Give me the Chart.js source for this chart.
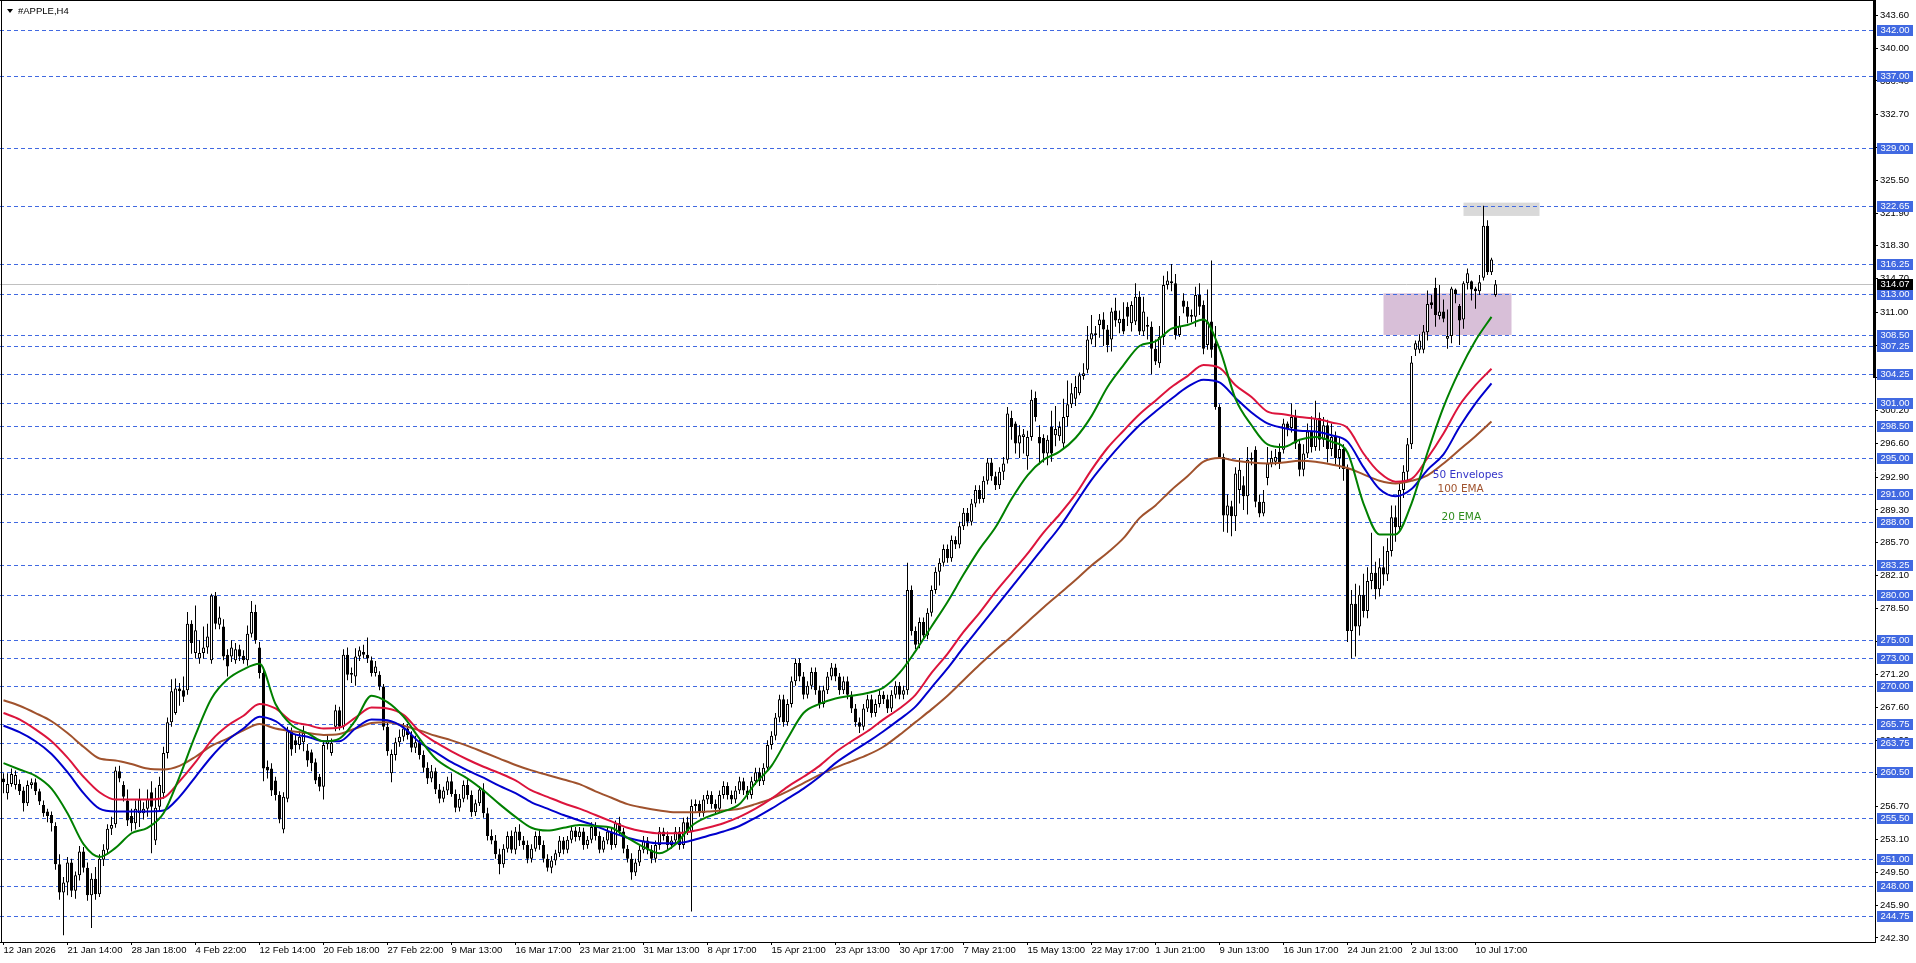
<!DOCTYPE html>
<html>
<head>
<meta charset="utf-8">
<title>#APPLE,H4</title>
<script src="https://cdn.jsdelivr.net/npm/chart.js@4.4.1/dist/chart.umd.min.js"></script>
<style>
  html, body { margin: 0; padding: 0; background: #fff; overflow: hidden; }
  #wrap { width: 1916px; height: 963px; }
</style>
</head>
<body>
<div id="wrap"><canvas id="chart" width="1916" height="963"></canvas></div>
<script>
const symbolTitle = "#APPLE,H4";

// one label every 16 bars (H4)
const timeLabels = [
  "12 Jan 2026", "21 Jan 14:00", "28 Jan 18:00", "4 Feb 22:00", "12 Feb 14:00", "20 Feb 18:00",
  "27 Feb 22:00", "9 Mar 13:00", "16 Mar 17:00", "23 Mar 21:00", "31 Mar 13:00", "8 Apr 17:00",
  "15 Apr 21:00", "23 Apr 13:00", "30 Apr 17:00", "7 May 21:00", "15 May 13:00", "22 May 17:00",
  "1 Jun 21:00", "9 Jun 13:00", "16 Jun 17:00", "24 Jun 21:00", "2 Jul 13:00", "10 Jul 17:00"
];

const priceTicks = [343.60, 340.00, 336.40, 332.70, 329.10, 325.50, 321.90, 318.30, 314.70, 311.00,
  307.40, 303.80, 300.20, 296.60, 292.90, 289.30, 285.70, 282.10, 278.50, 274.80, 271.20, 267.60,
  264.00, 260.30, 256.70, 253.10, 249.50, 245.90, 242.30];

const opens = [
  259.8, 258.2, 259.2, 259.1, 259.2, 258.5, 257.1, 259.1, 259.4, 258.4,
  256.9, 256.2, 255.8, 254.6, 250.4, 247.3, 248.4, 250.6, 247.5, 249.2,
  251.8, 250.0, 247.0, 248.8, 247.1, 250.9, 252.0, 254.3, 254.8, 260.6,
  259.1, 257.4, 255.7, 254.9, 256.0, 256.0, 256.5, 258.3, 253.0, 256.7,
  258.2, 262.6, 266.0, 267.0, 269.7, 269.5, 269.5, 276.8, 273.6, 273.0,
  273.6, 274.2, 272.8, 279.9, 276.7, 276.5, 273.4, 273.2, 272.8, 274.0,
  273.3, 272.8, 275.7, 278.1, 274.2, 271.4, 261.1, 260.9, 259.6, 258.0,
  254.2, 257.6, 265.0, 264.0, 263.5, 263.8, 262.9, 262.7, 261.6, 260.0,
  258.9, 263.6, 262.6, 265.5, 267.3, 265.5, 273.4, 271.4, 271.0, 273.2,
  273.7, 273.4, 272.8, 271.4, 271.2, 269.9, 265.5, 260.4, 262.4, 263.8,
  264.4, 265.3, 264.6, 263.2, 263.8, 262.4, 261.0, 259.8, 260.6, 258.6,
  257.6, 258.5, 259.5, 258.1, 256.6, 257.6, 259.1, 258.0, 256.1, 257.1,
  258.6, 256.0, 253.5, 253.0, 251.5, 250.4, 252.1, 253.5, 252.0, 254.0,
  253.0, 252.5, 251.0, 252.1, 253.5, 252.5, 251.0, 250.0, 250.8, 251.6,
  253.0, 252.0, 253.1, 254.1, 253.4, 254.0, 252.5, 253.1, 254.5, 253.5,
  252.0, 253.0, 254.0, 252.5, 254.9, 254.0, 252.1, 251.0, 249.5, 250.6,
  252.0, 253.0, 252.0, 251.0, 252.5, 254.0, 253.5, 252.5, 253.0, 254.0,
  252.5, 255.0, 254.0, 256.8, 257.0, 256.0, 257.5, 258.0, 257.0, 256.5,
  258.0, 259.0, 258.0, 257.5, 258.5, 259.5, 258.5, 258.0, 259.5, 260.5,
  259.5, 261.0, 263.5, 264.5, 266.5, 268.5, 266.0, 268.0, 270.5, 272.5,
  271.0, 269.0, 270.0, 271.5, 269.5, 268.0, 269.5, 271.0, 272.0, 271.0,
  269.5, 270.5, 269.0, 267.5, 266.0, 265.5, 267.5, 268.5, 267.0, 268.0,
  269.0, 268.5, 267.5, 269.0, 270.0, 269.0, 269.5, 280.5, 276.0, 274.5,
  277.0, 275.5, 278.0, 280.5, 282.5, 283.5, 285.0, 284.0, 286.0, 285.5,
  287.5, 289.0, 288.0, 290.0, 291.5, 290.5, 292.5, 294.5, 293.0, 292.0,
  293.5, 294.8, 299.4, 298.8, 296.6, 297.3, 295.2, 297.3, 301.6, 297.3,
  297.2, 295.5, 298.4, 297.5, 297.4, 296.6, 299.5, 300.9, 301.5, 302.1,
  304.0, 304.7, 308.0, 308.7, 309.6, 310.2, 309.1, 308.0, 311.2, 309.8,
  310.3, 311.6, 309.8, 310.0, 312.7, 308.9, 309.4, 309.4, 307.0, 305.4,
  308.3, 314.0, 314.2, 314.2, 308.5, 312.3, 311.6, 310.5, 310.5, 312.9,
  311.8, 307.4, 310.0, 307.6, 300.6, 295.1, 288.7, 289.7, 288.6, 291.5,
  292.0, 290.8, 294.8, 295.9, 290.2, 288.9, 292.8, 294.4, 294.6, 295.7,
  295.9, 298.8, 298.3, 299.5, 296.6, 293.7, 295.5, 297.9, 296.2, 299.4,
  297.0, 298.6, 296.0, 297.3, 295.0, 296.0, 293.8, 276.0, 279.0, 276.5,
  280.0, 278.2, 281.5, 282.4, 280.6, 283.0, 282.2, 284.8, 288.5, 287.4,
  291.5, 293.5, 296.5, 306.9, 306.9, 306.9, 308.8, 312.1, 313.7, 310.6,
  311.1, 308.1, 308.4, 313.5, 311.7, 310.2, 314.2, 314.4, 313.6, 313.3,
  314.8, 320.5, 315.4, 312.9
];

const highs = [
  260.4, 260.4, 260.9, 260.7, 259.7, 258.9, 259.6, 259.8, 259.8, 258.7,
  257.4, 256.5, 256.2, 255.0, 251.5, 249.0, 251.2, 251.0, 249.6, 252.4,
  252.3, 250.6, 249.4, 250.1, 251.5, 252.6, 254.8, 255.6, 261.1, 261.2,
  259.5, 258.6, 256.5, 257.4, 258.7, 257.2, 258.6, 259.5, 258.8, 260.0,
  263.3, 266.5, 270.7, 270.8, 270.3, 271.0, 278.1, 277.2, 278.8, 275.0,
  276.5, 276.8, 280.1, 280.3, 278.7, 277.3, 274.0, 275.0, 274.7, 274.5,
  273.9, 276.6, 279.3, 278.9, 274.8, 272.0, 261.8, 261.5, 260.0, 258.4,
  258.3, 265.5, 265.4, 264.6, 265.0, 265.6, 263.6, 263.0, 262.0, 260.3,
  264.0, 264.7, 264.2, 267.9, 267.7, 274.0, 274.2, 272.0, 274.1, 274.3,
  274.5, 275.3, 273.2, 272.7, 271.6, 270.2, 266.0, 263.0, 264.3, 265.2,
  265.9, 265.8, 265.0, 264.5, 264.2, 262.9, 261.6, 261.3, 261.0, 259.2,
  258.9, 260.0, 260.4, 258.6, 258.1, 259.6, 259.7, 258.5, 257.5, 259.0,
  259.3, 256.6, 254.2, 253.6, 252.1, 252.6, 254.0, 254.1, 254.5, 254.8,
  253.5, 253.0, 252.6, 254.0, 254.1, 253.0, 251.5, 251.3, 252.0, 253.5,
  253.4, 253.5, 254.6, 254.5, 254.5, 254.4, 253.5, 255.0, 255.0, 254.0,
  253.4, 254.5, 254.4, 255.2, 255.6, 254.4, 252.5, 251.6, 251.0, 252.4,
  253.5, 253.4, 252.5, 253.0, 254.5, 254.4, 254.0, 253.5, 254.5, 254.5,
  255.5, 255.6, 257.5, 257.5, 257.4, 258.0, 258.5, 258.4, 257.5, 258.5,
  259.5, 259.4, 258.5, 259.0, 260.0, 259.9, 259.0, 260.0, 261.0, 261.0,
  261.5, 264.0, 265.0, 267.0, 269.0, 269.0, 268.5, 271.0, 273.0, 273.0,
  271.5, 270.5, 272.0, 272.0, 270.0, 270.0, 271.5, 272.5, 272.4, 271.4,
  271.0, 271.0, 269.4, 268.0, 266.5, 268.0, 269.0, 269.0, 268.5, 269.5,
  269.4, 269.0, 269.5, 270.5, 270.4, 270.0, 283.5, 281.0, 276.5, 277.5,
  277.5, 278.5, 281.0, 283.0, 284.0, 285.5, 285.5, 286.5, 286.4, 288.0,
  289.5, 289.5, 290.5, 292.0, 292.0, 293.0, 295.0, 295.0, 293.5, 294.0,
  295.1, 300.6, 300.2, 299.0, 298.6, 298.2, 298.0, 302.5, 302.3, 298.6,
  297.6, 297.5, 300.2, 300.7, 299.0, 301.5, 303.5, 303.2, 304.0, 304.4,
  305.4, 309.5, 310.7, 309.5, 310.8, 311.0, 309.6, 311.5, 312.6, 311.2,
  312.1, 312.1, 312.2, 314.2, 313.3, 312.7, 310.5, 310.0, 308.0, 309.5,
  315.0, 315.5, 316.3, 315.2, 310.6, 313.1, 312.2, 311.3, 313.8, 314.2,
  312.3, 313.5, 316.7, 309.5, 300.9, 295.5, 291.0, 290.3, 294.0, 295.0,
  293.0, 296.2, 295.6, 296.3, 291.0, 291.5, 296.2, 295.8, 296.0, 296.6,
  299.3, 299.0, 301.0, 300.3, 297.0, 296.5, 298.8, 299.6, 301.3, 300.0,
  299.5, 299.2, 298.8, 297.9, 297.2, 296.5, 294.3, 280.5, 281.2, 281.0,
  282.3, 283.0, 286.8, 283.6, 284.0, 285.3, 286.2, 289.8, 289.8, 292.2,
  294.2, 297.2, 306.2, 307.9, 308.6, 309.6, 313.4, 312.9, 314.8, 314.0,
  312.4, 311.3, 313.8, 313.6, 311.9, 314.4, 315.8, 314.5, 313.8, 315.1,
  322.7, 321.1, 317.0, 314.55
];

const lows = [
  258.2, 257.5, 258.9, 258.6, 258.0, 256.2, 256.8, 258.7, 258.0, 256.9,
  255.6, 255.0, 254.0, 249.8, 246.5, 242.6, 247.0, 246.8, 246.6, 248.6,
  249.5, 246.4, 243.4, 246.5, 246.8, 250.2, 251.6, 253.6, 254.4, 259.4,
  257.3, 254.6, 254.0, 254.2, 254.5, 255.3, 255.6, 251.6, 252.5, 256.2,
  257.6, 262.0, 265.5, 266.8, 267.8, 268.2, 269.0, 273.5, 273.0, 272.4,
  273.0, 273.5, 272.4, 276.2, 276.2, 272.8, 271.0, 272.6, 272.4, 272.7,
  272.4, 272.2, 275.3, 274.6, 270.8, 259.5, 259.8, 257.9, 257.4, 254.9,
  253.8, 257.2, 262.3, 262.6, 263.0, 262.8, 261.1, 260.6, 259.2, 258.4,
  257.5, 263.0, 262.3, 265.0, 265.1, 265.2, 270.6, 270.3, 270.0, 272.7,
  273.0, 272.5, 271.0, 271.0, 269.5, 265.1, 262.3, 259.4, 261.8, 263.3,
  263.9, 264.1, 262.7, 262.6, 261.9, 260.5, 259.2, 259.4, 258.1, 257.1,
  257.2, 258.0, 257.8, 256.1, 256.2, 257.2, 257.5, 255.6, 255.7, 256.8,
  255.5, 253.0, 252.6, 251.0, 249.3, 250.0, 251.7, 251.6, 251.5, 252.4,
  252.0, 250.5, 250.6, 251.8, 252.0, 250.6, 249.6, 249.4, 250.3, 251.2,
  251.5, 251.6, 252.7, 252.9, 253.0, 252.0, 252.1, 252.7, 253.0, 251.6,
  251.7, 252.6, 252.0, 252.2, 253.6, 251.6, 250.6, 248.7, 249.1, 250.2,
  251.6, 251.5, 250.5, 250.6, 252.0, 253.0, 252.0, 252.1, 252.6, 252.0,
  252.1, 253.6, 245.2, 256.2, 255.6, 255.6, 257.0, 256.5, 256.0, 256.1,
  257.6, 257.5, 257.0, 257.1, 258.1, 258.0, 257.5, 257.6, 259.1, 259.0,
  259.1, 260.6, 263.0, 264.0, 266.0, 265.5, 265.6, 267.6, 270.0, 270.5,
  268.5, 268.6, 269.6, 269.0, 267.5, 267.6, 269.1, 270.6, 270.5, 269.0,
  269.1, 268.5, 267.0, 265.5, 264.8, 265.1, 267.1, 266.5, 266.6, 267.6,
  268.0, 267.0, 267.1, 268.6, 268.5, 268.5, 269.0, 275.5, 274.0, 274.1,
  275.0, 275.1, 277.6, 280.1, 281.0, 283.1, 283.5, 283.6, 285.0, 285.1,
  287.1, 287.5, 287.6, 289.6, 290.0, 290.1, 292.1, 292.5, 291.5, 291.6,
  292.6, 294.4, 297.0, 295.5, 295.0, 295.5, 293.7, 296.9, 299.0, 294.3,
  294.5, 294.2, 294.6, 296.3, 296.9, 296.1, 298.5, 300.5, 300.7, 301.9,
  303.6, 304.3, 307.5, 307.2, 308.2, 307.3, 306.6, 306.7, 309.4, 308.7,
  308.6, 309.5, 308.9, 309.6, 308.5, 308.4, 308.0, 304.2, 305.2, 304.9,
  307.4, 313.5, 313.3, 308.0, 308.3, 310.9, 309.8, 309.9, 309.4, 310.7,
  306.4, 306.9, 306.0, 300.3, 294.9, 286.9, 286.8, 286.4, 287.0, 290.0,
  289.3, 288.8, 294.2, 289.6, 288.5, 288.6, 292.0, 294.0, 294.2, 293.8,
  295.5, 297.4, 297.8, 296.0, 293.0, 293.0, 295.0, 295.6, 295.8, 295.8,
  296.2, 294.5, 295.2, 294.3, 293.8, 292.5, 274.8, 273.0, 273.2, 275.5,
  277.5, 277.4, 280.6, 279.5, 279.8, 281.0, 281.5, 284.2, 285.8, 287.0,
  290.6, 292.5, 296.0, 306.2, 306.5, 306.5, 307.9, 311.4, 309.4, 310.2,
  309.9, 307.0, 307.6, 312.0, 307.4, 309.2, 313.5, 312.3, 311.4, 312.9,
  314.5, 315.1, 315.1, 312.7
];

const closes = [
  259.4, 259.2, 260.3, 260.2, 258.4, 257.1, 259.1, 259.4, 258.4, 257.3,
  256.0, 255.7, 254.9, 250.4, 247.3, 248.4, 250.6, 247.5, 249.2, 251.8,
  250.0, 247.0, 248.8, 247.1, 251.0, 252.0, 254.3, 254.7, 260.7, 259.8,
  257.8, 255.2, 254.9, 256.5, 257.5, 256.5, 257.6, 256.7, 256.6, 259.1,
  262.6, 266.0, 269.4, 269.7, 269.4, 268.8, 276.8, 274.7, 276.1, 273.6,
  274.2, 275.4, 279.9, 276.8, 277.5, 273.2, 272.1, 274.2, 274.0, 273.2,
  272.8, 275.7, 278.1, 275.0, 271.4, 260.9, 260.7, 258.5, 258.0, 255.3,
  257.8, 265.0, 263.0, 263.5, 264.4, 264.8, 261.8, 261.5, 259.6, 258.9,
  263.5, 264.0, 263.7, 267.3, 265.5, 273.4, 271.2, 271.2, 273.2, 273.9,
  273.4, 273.0, 271.4, 272.1, 269.9, 265.5, 262.8, 262.5, 263.8, 264.4,
  265.3, 264.6, 263.2, 263.8, 262.4, 261.0, 259.8, 260.6, 258.6, 257.6,
  258.5, 259.5, 258.1, 256.6, 257.6, 259.1, 258.0, 256.1, 257.1, 258.6,
  256.0, 253.5, 253.0, 251.5, 250.4, 252.1, 253.5, 252.0, 254.0, 253.0,
  252.5, 251.0, 252.1, 253.5, 252.5, 251.0, 250.0, 250.8, 251.6, 253.0,
  252.0, 253.1, 254.1, 253.4, 254.0, 252.5, 253.1, 254.5, 253.5, 252.0,
  253.0, 254.0, 252.5, 254.9, 254.0, 252.1, 251.0, 249.5, 250.6, 252.0,
  253.0, 252.0, 251.0, 252.5, 254.0, 253.5, 252.5, 253.0, 254.0, 252.5,
  255.0, 254.0, 256.8, 257.0, 256.0, 257.5, 258.0, 257.0, 256.5, 258.0,
  259.0, 258.0, 257.5, 258.5, 259.5, 258.5, 258.0, 259.5, 260.5, 259.5,
  261.0, 263.5, 264.5, 266.5, 268.5, 266.0, 268.0, 270.5, 272.5, 271.0,
  269.0, 270.0, 271.5, 269.5, 268.0, 269.5, 271.0, 272.0, 271.0, 269.5,
  270.5, 269.0, 267.5, 266.0, 265.5, 267.5, 268.5, 267.0, 268.0, 269.0,
  268.5, 267.5, 269.0, 270.0, 269.0, 269.5, 280.5, 276.0, 274.5, 277.0,
  275.5, 278.0, 280.5, 282.5, 283.5, 285.0, 284.0, 286.0, 285.5, 287.5,
  289.0, 288.0, 290.0, 291.5, 290.5, 292.5, 294.5, 293.0, 292.0, 293.5,
  294.4, 299.9, 298.4, 296.6, 297.5, 297.6, 297.3, 301.4, 299.5, 296.6,
  295.5, 297.0, 295.5, 298.2, 298.4, 299.5, 300.9, 302.1, 302.8, 304.1,
  304.3, 308.0, 308.7, 308.5, 310.2, 309.1, 307.4, 311.1, 310.1, 310.3,
  308.9, 310.5, 311.8, 312.7, 308.9, 311.1, 309.6, 307.0, 305.6, 308.3,
  314.0, 314.5, 314.4, 308.5, 309.5, 311.6, 310.5, 310.7, 312.9, 311.6,
  307.0, 310.0, 306.9, 300.6, 295.1, 288.7, 289.8, 288.6, 293.3, 293.7,
  290.8, 294.8, 295.0, 290.2, 288.9, 290.2, 294.4, 295.0, 295.1, 294.4,
  298.8, 298.3, 299.5, 296.6, 293.7, 295.5, 297.9, 296.2, 299.4, 297.0,
  298.6, 296.0, 297.3, 295.0, 296.0, 293.8, 276.0, 279.0, 276.5, 280.0,
  278.2, 281.5, 282.4, 280.6, 283.0, 282.2, 284.8, 288.5, 287.4, 291.5,
  293.5, 296.5, 305.5, 307.6, 307.9, 308.9, 311.9, 311.8, 310.7, 311.1,
  310.3, 308.4, 313.6, 313.0, 310.1, 314.2, 315.3, 313.5, 313.3, 314.3,
  320.5, 315.4, 316.8, 314.07
];

// indicator values read every 4 bars
const lineStep = 4;
const ema20 = [
  261.5, 260.8, 260.1, 258.7, 256.0, 252.6, 251.2, 252.2, 253.8, 254.4,
  256.0, 260.0, 264.6, 268.6, 270.7, 271.8, 272.4, 268.0, 265.7, 264.8,
  263.9, 264.2, 266.2, 268.9, 268.2, 266.6, 264.2, 262.0, 260.8, 259.8,
  258.5, 257.0, 255.6, 254.4, 254.1, 254.4, 254.7, 254.6, 254.4, 253.3,
  252.3, 251.6, 252.6, 254.6, 255.6, 256.2, 257.0, 259.3, 261.2, 264.2,
  267.0, 268.0, 268.6, 268.9, 269.2, 269.8, 271.4, 273.8, 276.5, 279.2,
  282.2, 285.0, 287.4, 290.5, 293.1, 294.8, 295.7, 297.2, 299.6, 302.8,
  305.2, 307.3, 307.8, 309.2, 309.6, 310.2, 307.0, 301.5, 298.6, 296.5,
  296.2, 297.0, 297.3, 296.8, 295.6, 290.0, 286.6, 286.6, 290.0, 295.6,
  300.6, 304.6, 307.9, 310.5
];
const envUpper = [
  267.0, 266.3, 265.2, 263.9, 262.1, 260.0, 258.3, 257.5, 257.5, 257.5,
  257.7, 259.5, 261.6, 264.0, 265.6, 266.7, 268.0, 267.5, 266.1, 265.7,
  265.3, 265.4, 266.5, 267.6, 267.5, 266.8, 265.0, 263.8, 262.8, 261.9,
  261.1, 260.4, 259.6, 258.5, 257.8, 257.1, 256.5, 255.8, 255.1, 254.4,
  254.0, 253.8, 253.8, 254.0, 254.4, 254.9, 255.6, 256.5, 257.6, 258.9,
  260.0, 261.2, 262.7, 263.9, 265.0, 266.3, 267.5, 269.0, 271.4, 273.5,
  275.9, 278.0, 280.3, 282.4, 284.5, 286.8, 288.8, 291.0, 293.7, 296.1,
  298.0, 299.8, 301.3, 302.8, 304.0, 305.2, 304.9, 303.0, 301.7, 300.1,
  299.8, 299.5, 299.3, 298.9, 298.3, 295.5, 293.4, 292.4, 292.7, 295.0,
  297.7, 300.8, 303.0, 304.8
];
const envLower = [
  265.6, 264.9, 263.9, 262.5, 260.5, 258.2, 256.5, 256.2, 256.2, 256.2,
  256.3, 257.8, 260.0, 262.2, 264.0, 265.3, 266.6, 266.1, 264.8, 264.4,
  263.9, 263.9, 265.3, 266.3, 266.2, 265.4, 263.8, 262.7, 261.6, 260.7,
  259.9, 259.0, 258.2, 257.2, 256.5, 255.8, 255.2, 254.6, 253.9, 253.3,
  252.9, 252.7, 252.7, 253.0, 253.5, 254.0, 254.6, 255.5, 256.5, 257.6,
  258.7, 260.0, 261.5, 262.7, 263.8, 265.0, 266.3, 267.7, 269.8, 271.9,
  274.2, 276.4, 278.6, 280.8, 283.0, 285.2, 287.4, 290.0, 292.6, 294.8,
  296.8, 298.6, 300.1, 301.5, 302.8, 303.6, 303.3, 301.6, 300.0, 298.8,
  298.3, 298.0, 297.9, 297.5, 296.8, 294.0, 291.6, 290.8, 291.6, 293.7,
  295.4, 298.4, 301.0, 303.2
];
const ema100 = [
  268.4, 267.8, 267.0, 266.1, 264.8, 263.3, 262.0, 261.8, 261.4, 260.9,
  260.8, 261.2, 262.2, 263.4, 264.2, 265.1, 265.8, 265.3, 265.0, 264.8,
  264.6, 264.7, 265.3, 265.9, 266.0, 265.6, 265.1, 264.5, 264.0, 263.4,
  262.7, 262.0, 261.3, 260.7, 260.2, 259.7, 259.2, 258.4, 257.7, 257.0,
  256.6, 256.3, 256.1, 256.1, 256.2, 256.3, 256.5, 257.0, 257.6, 258.4,
  259.3, 260.2, 261.0, 261.7, 262.4, 263.3, 264.6, 266.0, 267.4, 268.9,
  270.6, 272.3, 273.9, 275.4, 277.0, 278.6, 280.1, 281.6, 283.2, 284.6,
  286.2, 288.4, 289.8, 291.5, 293.0, 294.6, 295.0, 294.7, 294.5, 294.4,
  294.5, 294.7, 294.6, 294.3, 293.9, 293.2, 292.5, 292.2, 292.5, 293.1,
  294.4, 295.9, 297.4, 299.0
];

const levels = [342.00, 337.00, 329.00, 322.65, 316.25, 313.00, 308.50, 307.25, 304.25, 301.00,
  298.50, 295.00, 291.00, 288.00, 283.25, 280.00, 275.00, 273.00, 270.00, 265.75, 263.75,
  260.50, 255.50, 251.00, 248.00, 244.75];
const lastPrice = 314.07;

const zones = [
  { from: 365, to: 384, low: 321.58, high: 323.04, color: "#d9d9d9" },
  { from: 345, to: 377, low: 308.50, high: 313.08, color: "#d8bfd8" }
];
const notes = [
  { text: "50 Envelopes", bar: 357.3, price: 293.1, color: "#3434c8" },
  { text: "100 EMA", bar: 358.5, price: 291.6, color: "#a0522d" },
  { text: "20 EMA", bar: 359.5, price: 288.5, color: "#2c8c1c" }
];

const axisFont = { family: "'Liberation Sans', Arial, sans-serif", size: 9.5 };
const labelEvery = 16;

const mtOverlay = {
  id: "mtOverlay",
  beforeDatasetsDraw(chart) {
    const { ctx, chartArea: a, scales: { x, y } } = chart;
    ctx.save();
    ctx.beginPath();
    ctx.rect(a.left, a.top, a.right - a.left, a.bottom - a.top);
    ctx.clip();
    zones.forEach(z => {
      const x1 = x.getPixelForValue(z.from), x2 = x.getPixelForValue(z.to);
      const y1 = y.getPixelForValue(z.high), y2 = y.getPixelForValue(z.low);
      ctx.fillStyle = z.color;
      ctx.fillRect(x1, y1, x2 - x1, y2 - y1);
    });
    ctx.lineWidth = 1;
    ctx.strokeStyle = "#4169e1";
    ctx.setLineDash([4, 3]);
    levels.forEach(p => {
      const py = Math.round(y.getPixelForValue(p)) + 0.5;
      ctx.beginPath();
      ctx.moveTo(a.left, py);
      ctx.lineTo(a.right, py);
      ctx.stroke();
    });
    ctx.setLineDash([]);
    ctx.strokeStyle = "#c0c0c0";
    const ly = Math.round(y.getPixelForValue(lastPrice)) + 0.5;
    ctx.beginPath();
    ctx.moveTo(a.left, ly);
    ctx.lineTo(a.right, ly);
    ctx.stroke();
    ctx.restore();
  },
  afterDraw(chart) {
    const { ctx, chartArea: a, scales: { x, y } } = chart;
    ctx.save();
    // text notes next to the indicators
    ctx.font = "10.5px 'DejaVu Sans', sans-serif";
    ctx.textBaseline = "middle";
    ctx.textAlign = "left";
    notes.forEach(n => {
      ctx.fillStyle = n.color;
      ctx.fillText(n.text, x.getPixelForValue(n.bar), y.getPixelForValue(n.price));
    });

    // price labels of the horizontal lines
    ctx.font = axisFont.size + "px " + axisFont.family;
    const tag = (p, bg) => {
      const py = Math.round(y.getPixelForValue(p));
      ctx.fillStyle = bg;
      ctx.fillRect(a.right + 2, py - 5, 36, 11);
      ctx.fillStyle = "#fff";
      ctx.fillText(p.toFixed(2), a.right + 5.5, py + 0.5);
    };
    levels.forEach(p => tag(p, "#4169e1"));
    tag(lastPrice, "#000");

    // frame
    ctx.fillStyle = "#000";
    ctx.fillRect(a.left + 1, a.top, 1, a.bottom - a.top);
    ctx.fillRect(a.left, a.top, a.right - a.left, 1);
    ctx.fillRect(a.right - 2, a.top, 3, 378);

    // title
    ctx.beginPath();
    ctx.moveTo(7, 9);
    ctx.lineTo(13, 9);
    ctx.lineTo(10, 13);
    ctx.closePath();
    ctx.fill();
    ctx.fillText(symbolTitle, 18, 11.5);
    ctx.restore();
  }
};

const wickData = highs.map((h, i) => ({ x: i, y: [lows[i], h] }));
const bodyData = opens.map((o, i) => ({ x: i, y: [o, closes[i]] }));
const bodyColors = opens.map((o, i) => (closes[i] >= o ? "#ffffff" : "#000000"));
const toPoints = arr => arr.map((v, k) => ({ x: k * lineStep, y: v }));

const lineStyle = { type: "line", borderWidth: 2, pointRadius: 0, tension: 0, cubicInterpolationMode: "monotone", order: 0 };

new Chart(document.getElementById("chart"), {
  type: "bar",
  data: {
    datasets: [
      { ...lineStyle, label: "20 EMA", data: toPoints(ema20), borderColor: "#008000" },
      { ...lineStyle, label: "Envelope upper", data: toPoints(envUpper), borderColor: "#dc143c" },
      { ...lineStyle, label: "Envelope lower", data: toPoints(envLower), borderColor: "#0000cd" },
      { ...lineStyle, label: "100 EMA", data: toPoints(ema100), borderColor: "#a0522d" },
      {
        label: "bodies", data: bodyData, grouped: false, order: 1,
        backgroundColor: bodyColors, borderColor: "#000", borderWidth: 1, borderSkipped: false,
        categoryPercentage: 1, barPercentage: 0.75
      },
      {
        label: "wicks", data: wickData, grouped: false, order: 2,
        backgroundColor: "#000", borderWidth: 0,
        categoryPercentage: 1, barPercentage: 0.25
      }
    ]
  },
  options: {
    responsive: false,
    animation: false,
    devicePixelRatio: 1,
    events: [],
    layout: { padding: 0 },
    plugins: {
      legend: { display: false },
      tooltip: { enabled: false },
      title: { display: false }
    },
    scales: {
      x: {
        type: "linear",
        offset: false,
        bounds: "data",
        min: -0.875,
        max: 467.875,
        afterBuildTicks: s => { s.ticks = timeLabels.map((_, i) => ({ value: i * labelEvery })); },
        afterFit: s => { s.height = 21; s.paddingLeft = 0; s.paddingRight = 0; },
        grid: { offset: false, drawOnChartArea: false, drawTicks: true, tickLength: 3, color: "#000" },
        border: { display: true, color: "#000", width: 1 },
        ticks: {
          autoSkip: false, maxRotation: 0, align: "start", padding: 0,
          color: "#000", font: axisFont,
          callback: v => timeLabels[Math.round(v / labelEvery)]
        }
      },
      y: {
        position: "right",
        min: 241.86,
        max: 345.29,
        afterBuildTicks: s => { s.ticks = priceTicks.map(v => ({ value: v })); },
        afterFit: s => { s.width = 41; s.paddingTop = 0; s.paddingBottom = 0; },
        grid: { drawOnChartArea: false, drawTicks: true, tickLength: 3, color: "#000" },
        border: { display: true, color: "#000", width: 1 },
        ticks: {
          autoSkip: false, padding: 2, color: "#000", font: axisFont,
          callback: v => v.toFixed(2)
        }
      }
    }
  },
  plugins: [mtOverlay]
});
</script>
</body>
</html>
